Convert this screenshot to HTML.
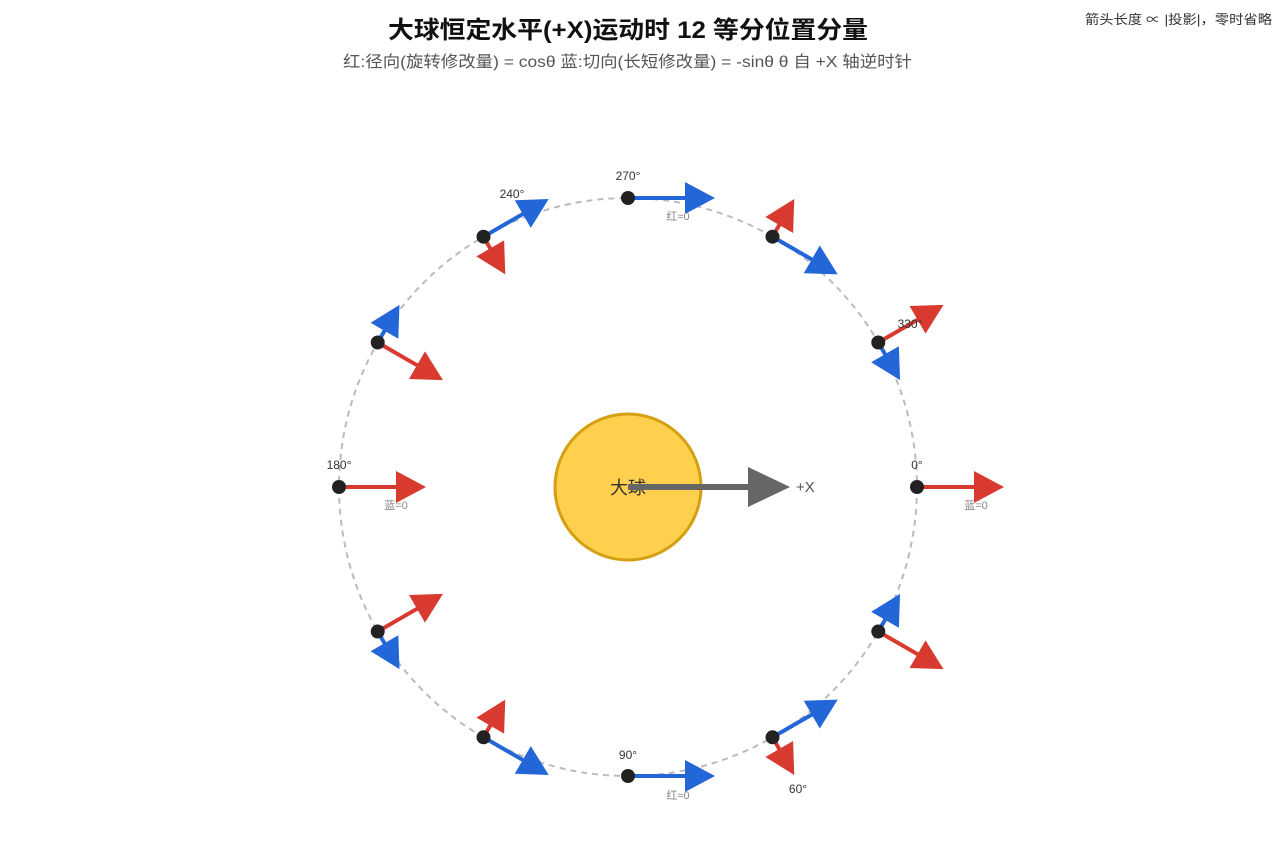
<!DOCTYPE html>
<html><head><meta charset="utf-8"><style>
html,body{margin:0;padding:0;background:#fff;}
svg{display:block;font-family:"Liberation Sans","Noto Sans CJK SC",sans-serif;}
</style></head><body>
<svg id="s" width="1280" height="844" viewBox="0 0 1280 844" xmlns="http://www.w3.org/2000/svg">
<text x="388" y="38" font-size="24" font-weight="bold" fill="#111" textLength="480" lengthAdjust="spacingAndGlyphs">大球恒定水平(+X)运动时 12 等分位置分量</text>
<text x="343" y="67" font-size="16" fill="#555" textLength="569" lengthAdjust="spacingAndGlyphs">红:径向(旋转修改量) = cosθ 蓝:切向(长短修改量) = -sinθ θ 自 +X 轴逆时针</text>
<text x="1085" y="24" font-size="13" fill="#333" textLength="187" lengthAdjust="spacingAndGlyphs">箭头长度 ∝ |投影|，零时省略</text>
<circle cx="628" cy="487" r="289" fill="none" stroke="#bbb" stroke-width="2" stroke-dasharray="6 5"/>
<circle cx="628" cy="487" r="73" fill="#FFD04D" stroke="#D4A010" stroke-width="3"/>
<text x="628" y="494" text-anchor="middle" font-size="18" fill="#333">大球</text>
<line x1="628" y1="487" x2="752" y2="487" stroke="#666" stroke-width="6"/>
<polygon points="790,487 748,467 748,507" fill="#666"/>
<text x="796" y="492" font-size="15" fill="#555">+X</text>
<g id="arrows"></g>
<g font-size="12" fill="#333">
<text x="917" y="469" text-anchor="middle">0°</text>
<text x="339" y="469" text-anchor="middle">180°</text>
<text x="628" y="759" text-anchor="middle">90°</text>
<text x="628" y="180" text-anchor="middle">270°</text>
<text x="512" y="198" text-anchor="middle">240°</text>
<text x="910" y="328" text-anchor="middle">330°</text>
<text x="798" y="793" text-anchor="middle">60°</text>
</g>
<g font-size="11" fill="#888">
<text x="976" y="509" text-anchor="middle">蓝=0</text>
<text x="396" y="509" text-anchor="middle">蓝=0</text>
<text x="678" y="220" text-anchor="middle">红≈0</text>
<text x="678" y="799" text-anchor="middle">红≈0</text>
</g>
</svg>
<script>
var g=document.getElementById('arrows'),ns='http://www.w3.org/2000/svg';
function arrow(x,y,dx,dy,col){
  var L=Math.hypot(dx,dy); if(L<1)return;
  var ux=dx/L,uy=dy/L,px=-uy,py=ux,hl=30,hw=16;
  var tx=x+dx,ty=y+dy,bx=tx-ux*hl,by=ty-uy*hl;
  var l=document.createElementNS(ns,'line');
  l.setAttribute('x1',x);l.setAttribute('y1',y);l.setAttribute('x2',bx+ux*2);l.setAttribute('y2',by+uy*2);
  l.setAttribute('stroke',col);l.setAttribute('stroke-width',4);g.appendChild(l);
  var p=document.createElementNS(ns,'polygon');
  p.setAttribute('points',tx+','+ty+' '+(bx+px*hw)+','+(by+py*hw)+' '+(bx-px*hw)+','+(by-py*hw));
  p.setAttribute('fill',col);g.appendChild(p);
}
var dots=[];
for(var i=0;i<12;i++){
  var t=i*Math.PI/6,c=Math.cos(t),s=Math.sin(t);
  if(Math.abs(c)<1e-9)c=0; if(Math.abs(s)<1e-9)s=0;
  var x=628+289*c,y=487+289*s,L=87;
  arrow(x,y,c*c*L,c*s*L,'#D93A2F');
  arrow(x,y,s*s*L,-s*c*L,'#2266D8');
  dots.push([x,y]);
}
dots.forEach(function(d){var k=document.createElementNS(ns,'circle');k.setAttribute('cx',d[0]);k.setAttribute('cy',d[1]);k.setAttribute('r',7);k.setAttribute('fill','#222');g.appendChild(k);});
</script>
</body></html>
